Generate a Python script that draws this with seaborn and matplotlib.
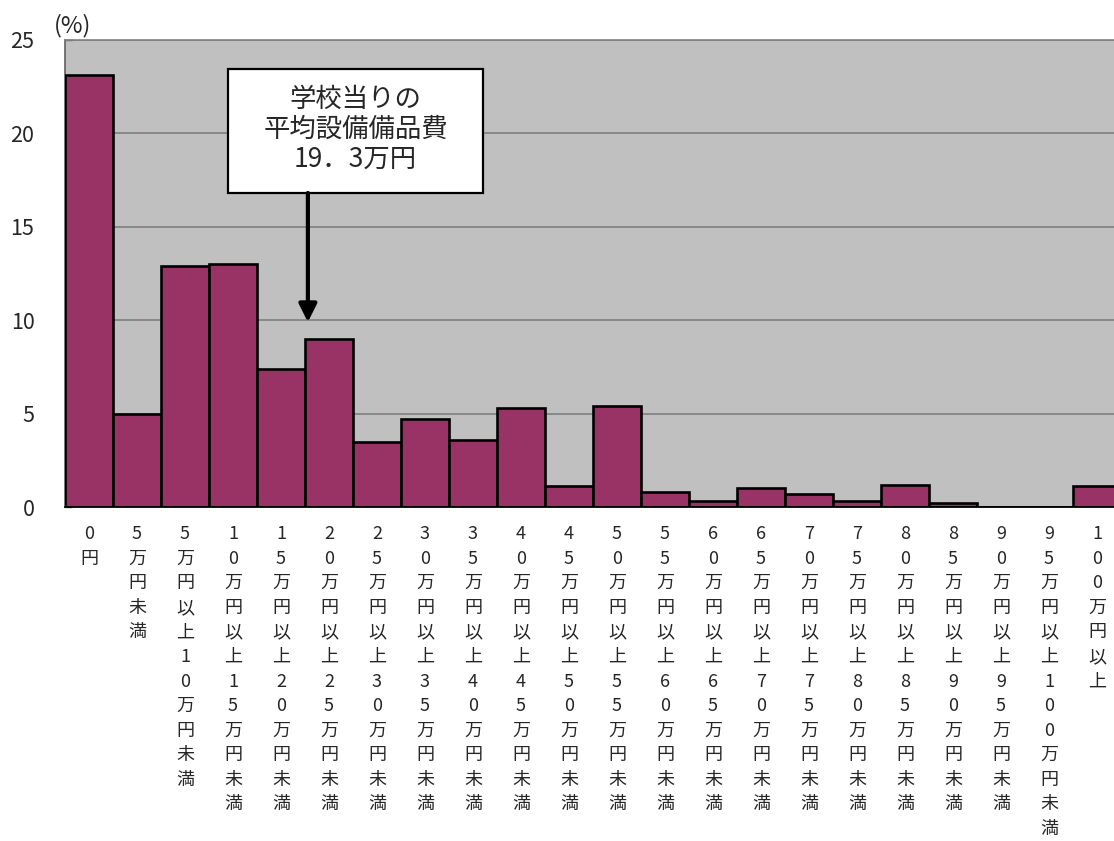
import matplotlib
matplotlib.use("Agg")
import matplotlib.pyplot as plt
from matplotlib.patches import Rectangle
import seaborn as sns
import pandas as pd

# Distribution of equipment spending per school (%)
categories = [
    "0円", "5万円未満", "5万円以上10万円未満", "10万円以上15万円未満",
    "15万円以上20万円未満", "20万円以上25万円未満", "25万円以上30万円未満",
    "30万円以上35万円未満", "35万円以上40万円未満", "40万円以上45万円未満",
    "45万円以上50万円未満", "50万円以上55万円未満", "55万円以上60万円未満",
    "60万円以上65万円未満", "65万円以上70万円未満", "70万円以上75万円未満",
    "75万円以上80万円未満", "80万円以上85万円未満", "85万円以上90万円未満",
    "90万円以上95万円未満", "95万円以上100万円未満", "100万円以上",
]
values = [23.1, 5.0, 12.9, 13.0, 7.4, 9.0, 3.5, 4.7, 3.6, 5.3, 1.1,
          5.4, 0.8, 0.3, 1.0, 0.7, 0.3, 1.2, 0.2, 0.0, 0.0, 1.1]
y_ticks = [0, 5, 10, 15, 20, 25]
note_text = "学校当りの\n平均設備備品費\n19．3万円"
mean_position = 4.56   # 19.3万円 on the category scale

sns.set_style("white")
plt.rcParams["font.family"] = ["Noto Sans CJK JP", "DejaVu Sans"]

W, H = 1114, 841
fig = plt.figure(figsize=(W / 100, H / 100), dpi=100)
ax = fig.add_axes([65 / W, 1 - 507 / H, (1121 - 65) / W, (507 - 40) / H])

df = pd.DataFrame({"cat": categories, "val": values})
sns.barplot(data=df, x="cat", y="val", ax=ax, order=categories,
            color="#993366", saturation=1, width=1.0,
            edgecolor="black", linewidth=1.9, zorder=3)

ax.set_facecolor("#C0C0C0")
ax.set_xlim(-0.5, len(categories) - 0.5)
ax.set_ylim(0, 25)
ax.set_xlabel("")
ax.set_ylabel("")
ax.set_axisbelow(True)

ax.set_yticks(y_ticks)
ax.set_yticklabels([str(t) for t in y_ticks], fontsize=15.5)
ax.yaxis.grid(True, color="#808080", linewidth=1.2)
ax.xaxis.grid(False)
ax.tick_params(axis="y", direction="in", length=5, width=1, color="#606060",
               pad=22, left=True)

ax.set_xticks(range(len(categories)))
ax.set_xticklabels(["\n".join(c) for c in categories], fontsize=13,
                   linespacing=1.47, va="top")
ax.tick_params(axis="x", length=0, pad=13)
ax.set_xticks([i + 0.5 for i in range(len(categories) - 1)], minor=True)
ax.tick_params(axis="x", which="minor", direction="in", length=5,
               color="#606060", width=1)

ax.spines["right"].set_visible(False)
ax.spines["top"].set_color("#808080")
ax.spines["top"].set_linewidth(1.2)
ax.spines["left"].set_color("#606060")
ax.spines["left"].set_linewidth(1.2)
ax.spines["bottom"].set_color("black")
ax.spines["bottom"].set_linewidth(1.3)
ax.spines["bottom"].set_zorder(4)

# Callout box with the mean value and its arrow
box_x0, box_x1 = 2.896, 8.21
box_y0, box_y1 = 16.81, 23.45
ax.add_patch(Rectangle((box_x0, box_y0), box_x1 - box_x0, box_y1 - box_y0,
                       facecolor="white", edgecolor="black", linewidth=1.6,
                       zorder=6))
ax.text((box_x0 + box_x1) / 2, (box_y0 + box_y1) / 2 + 0.1, note_text,
        ha="center", va="center", fontsize=19, linespacing=1.15, zorder=7)
ax.annotate("", xy=(mean_position, 9.9), xytext=(mean_position, box_y0),
            arrowprops=dict(arrowstyle="-|>", color="black", lw=3,
                            mutation_scale=27, shrinkA=0, shrinkB=0),
            zorder=6)

fig.text(54 / W, 1 - 26 / H, "(%)", fontsize=17, ha="left", va="center")

fig.savefig("out.png", dpi=100)
